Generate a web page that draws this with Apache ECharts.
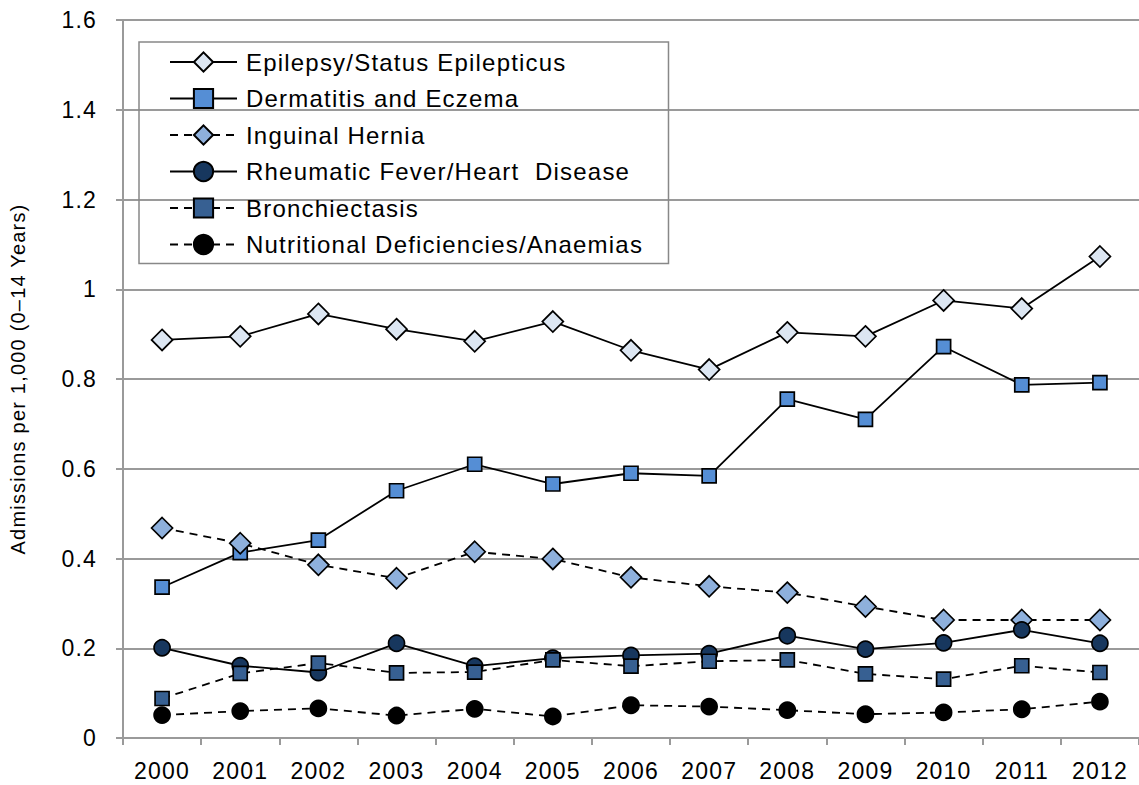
<!DOCTYPE html>
<html>
<head>
<meta charset="utf-8">
<script src="https://cdn.jsdelivr.net/npm/echarts@6/dist/echarts.min.js"></script>
<style>
	html,body{margin:0;padding:0;background:#fff;}
	#chart{width:1139px;height:785px;}
	#chart svg text{letter-spacing:1.2px;}
</style>
</head>
<body>
<div id="chart"></div>
<script>
	var years = ['2000','2001','2002','2003','2004','2005','2006','2007','2008','2009','2010','2011','2012'];
	var yTicks = [0, 0.2, 0.4, 0.6, 0.8, 1, 1.2, 1.4, 1.6];

	var epilepsy     = [0.887,0.895,0.945,0.911,0.884,0.928,0.864,0.821,0.904,0.895,0.975,0.957,1.073];
	var dermatitis   = [0.336,0.413,0.441,0.551,0.610,0.566,0.590,0.584,0.755,0.710,0.872,0.787,0.792];
	var inguinal     = [0.468,0.434,0.386,0.356,0.415,0.399,0.358,0.338,0.324,0.293,0.263,0.263,0.263];
	var rheumatic    = [0.201,0.161,0.146,0.211,0.160,0.178,0.184,0.188,0.228,0.198,0.212,0.241,0.211];
	var bronchiectasis = [0.088,0.144,0.167,0.145,0.147,0.174,0.160,0.171,0.174,0.143,0.131,0.161,0.146];
	var nutritional  = [0.051,0.060,0.066,0.050,0.065,0.048,0.073,0.070,0.062,0.053,0.057,0.064,0.081];

	var names = ['Epilepsy/Status Epilepticus','Dermatitis and Eczema','Inguinal Hernia',
		'Rheumatic Fever/Heart  Disease','Bronchiectasis','Nutritional Deficiencies/Anaemias'];

	function makeSeries(name, data, symbol, size, fill, dashed){
		return {
			name: name,
			type: 'line',
			data: data,
			symbol: symbol,
			symbolSize: size,
			showAllSymbol: true,
			animation: false,
			itemStyle: {color: fill, borderColor: '#000', borderWidth: 1.7, opacity: 1},
			lineStyle: {color: '#000', width: 1.8, type: dashed ? [8, 6] : 'solid'},
			emphasis: {disabled: true}
		};
	}

	var chart = echarts.init(document.getElementById('chart'), null, {renderer: 'svg'});
	var option = {
		animation: false,
		textStyle: {fontFamily: 'Liberation Sans, Arial, sans-serif'},
		grid: {left: 117, top: 20, width: 1033, height: 718},
		legend: {
			orient: 'vertical',
			left: 139, top: 42,
			padding: [8, 65, 7, 30],
			borderColor: '#888', borderWidth: 1.5,
			itemWidth: 67, itemHeight: 24, itemGap: 12.5,
			textStyle: {fontSize: 24, color: '#000', padding: [0, 0, 0, 4]},
			data: names
		},
		xAxis: {
			type: 'category',
			data: years,
			boundaryGap: true,
			axisLine: {lineStyle: {color: '#9a9a9a', width: 2}},
			axisTick: {show: true, length: 7, lineStyle: {color: '#9a9a9a', width: 2}},
			axisLabel: {fontSize: 23, color: '#000', margin: 21}
		},
		yAxis: {
			type: 'value',
			min: 0, max: 1.6, interval: 0.2,
			name: 'Admissions per 1,000 (0\u201314 Years)',
			nameLocation: 'middle',
			nameGap: 95,
			nameTextStyle: {fontSize: 20, color: '#000'},
			axisLine: {show: true, lineStyle: {color: '#9a9a9a', width: 2}},
			axisTick: {show: true, length: 7, lineStyle: {color: '#9a9a9a', width: 2}},
			splitLine: {lineStyle: {color: '#9a9a9a', width: 2}},
			axisLabel: {
				fontSize: 23, color: '#000', margin: 26,
				formatter: function(v){
					var i = yTicks.indexOf(Math.round(v*10)/10);
					return i < 0 ? '' : (yTicks[i] === 0 || yTicks[i] === 1 ? String(yTicks[i]) : yTicks[i].toFixed(1));
				}
			}
		},
		series: [
			makeSeries(names[0], epilepsy, 'diamond', [21, 21], '#dce6f2', false),
			makeSeries(names[1], dermatitis, 'rect', 14, '#558ed5', false),
			makeSeries(names[2], inguinal, 'diamond', [21, 21], '#8eb0dc', true),
			makeSeries(names[3], rheumatic, 'circle', 16, '#17375e', false),
			makeSeries(names[4], bronchiectasis, 'rect', 14, '#376092', true),
			makeSeries(names[5], nutritional, 'circle', 16, '#000000', true)
		]
	};
	chart.setOption(option);
</script>
</body>
</html>
